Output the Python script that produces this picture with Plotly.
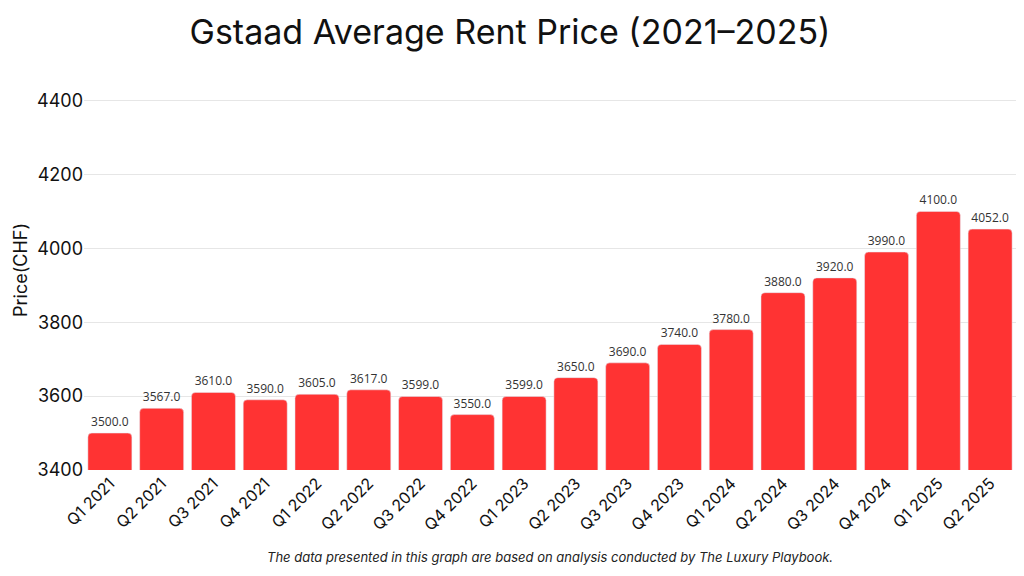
import plotly.graph_objects as go

quarters = ["Q1 2021", "Q2 2021", "Q3 2021", "Q4 2021", "Q1 2022", "Q2 2022", "Q3 2022", "Q4 2022",
            "Q1 2023", "Q2 2023", "Q3 2023", "Q4 2023", "Q1 2024", "Q2 2024", "Q3 2024", "Q4 2024",
            "Q1 2025", "Q2 2025"]
prices = [3500, 3567, 3610, 3590, 3605, 3617, 3599, 3550, 3599, 3650, 3690, 3740, 3780, 3880, 3920,
          3990, 4100, 4052]
y_ticks = [3400, 3600, 3800, 4000, 4200, 4400]

fig = go.Figure(go.Bar(
    x=quarters, y=prices,
    marker=dict(color="#FF3333", cornerradius=4),
    text=[f"{v:.1f}" for v in prices],
    textposition="outside",
    textfont=dict(family="Open Sans, sans-serif", size=12, color="#333333"),
    cliponaxis=False,
))

# page body has an 8px margin, so the figure is sized/offset to compensate
fig.update_layout(
    width=1016, height=568,
    paper_bgcolor="white", plot_bgcolor="white",
    margin=dict(l=76, r=8, t=63, b=106, autoexpand=False),
    bargap=0.15,
    showlegend=False,
    title=dict(text="Gstaad Average Rent Price (2021–2025)", x=(510 - 8) / 1016, xanchor="center",
               y=1 - 24 / 568, yanchor="middle",
               font=dict(family="Inter, sans-serif", size=34, color="#111111")),
    annotations=[
        dict(text="<i>The data presented in this graph are based on analysis conducted by The Luxury Playbook.</i>",
             xref="paper", yref="paper", x=0.5, y=-0.218, yanchor="middle",
             xanchor="center", showarrow=False,
             font=dict(family="Inter, sans-serif", size=13, color="#222222")),
        dict(text="Price(CHF)", xref="paper", yref="paper", x=-76 / 932, y=0.5, textangle=-90,
             xanchor="left", yanchor="middle", showarrow=False,
             font=dict(family="Inter, sans-serif", size=18, color="#111111")),
    ],
)
fig.update_xaxes(tickangle=-45, tickfont=dict(family="Inter, sans-serif", size=16, color="#111111"),
                 showgrid=False, showline=False, ticks="", automargin=False)
fig.update_yaxes(range=[3400, 4480], tickvals=y_ticks, showgrid=True, gridcolor="#E6E6E6",
                 zeroline=False, showline=False, automargin=False,
                 tickfont=dict(family="Inter, sans-serif", size=18, color="#111111"))

fig.write_html("out.html")
